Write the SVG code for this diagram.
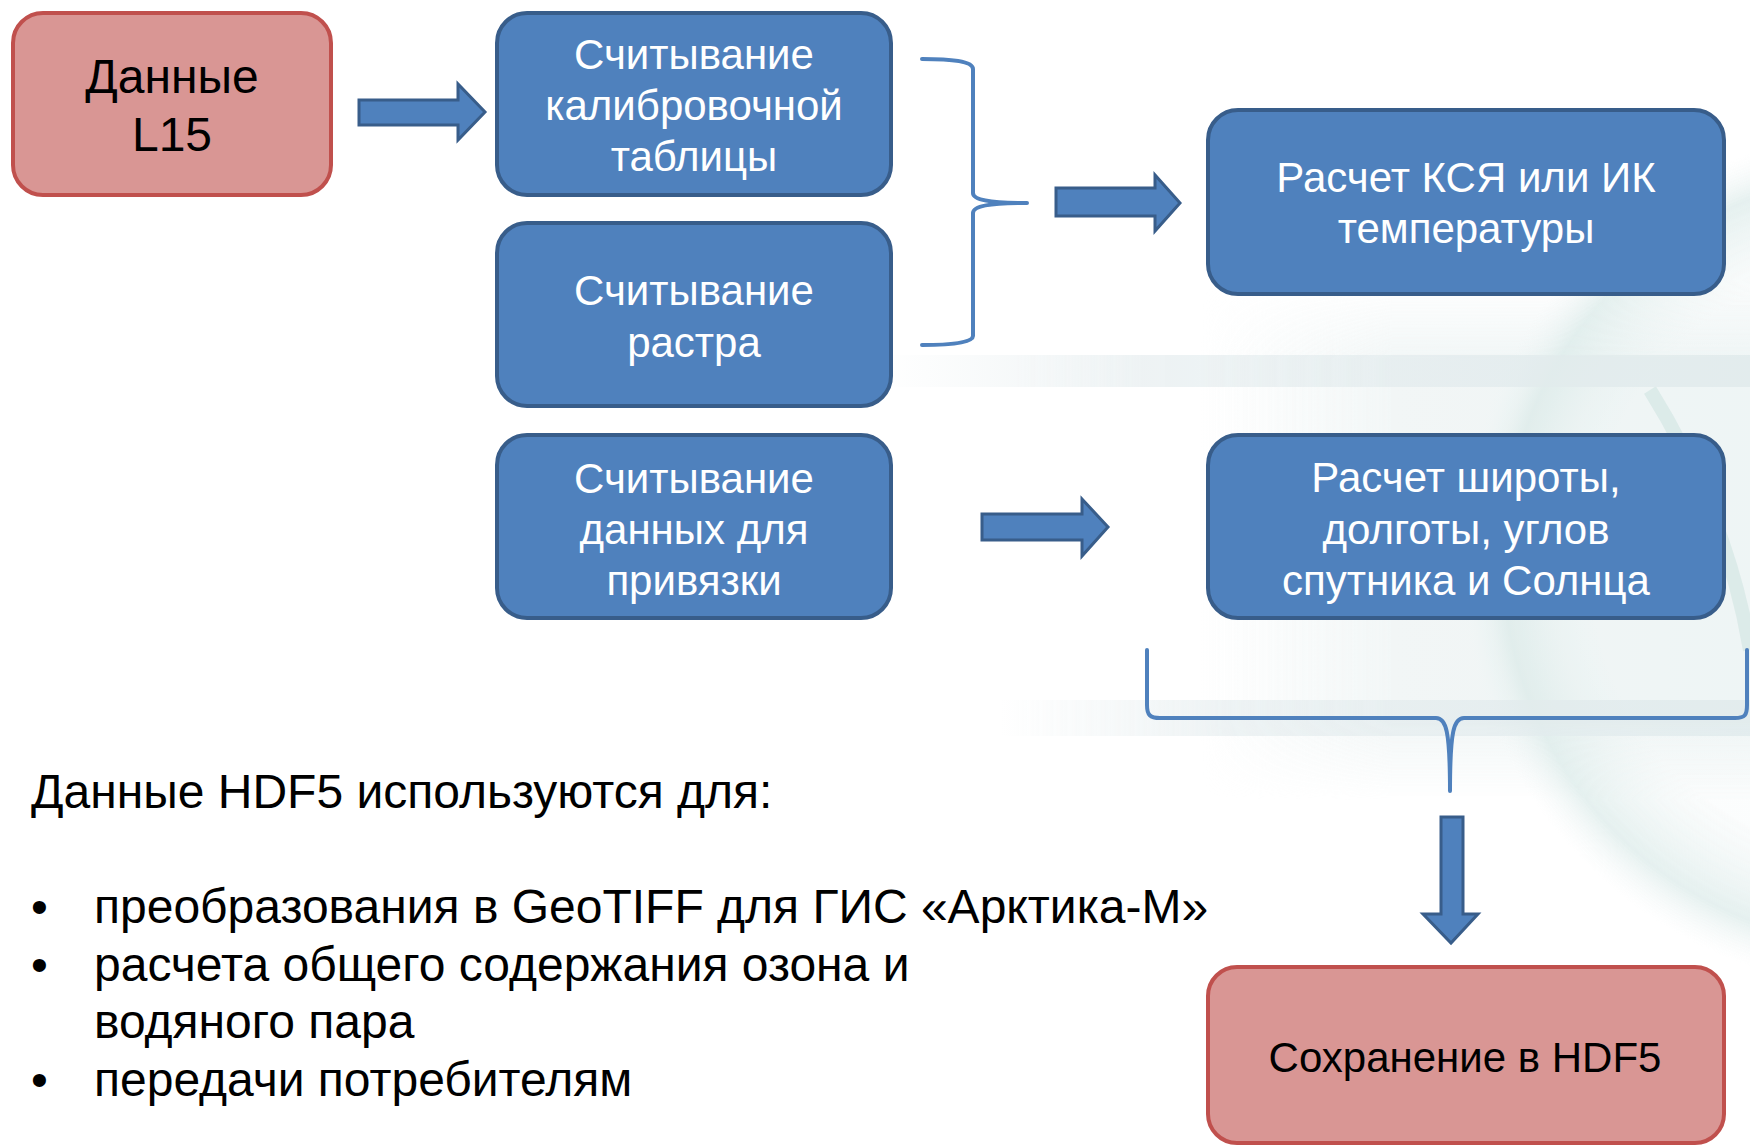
<svg xmlns="http://www.w3.org/2000/svg" width="1750" height="1146" viewBox="0 0 1750 1146">
  <style>
    .blue { fill: #4F81BD; stroke: #385D8A; stroke-width: 4; }
    .red { fill: #D99694; stroke: #C0504D; stroke-width: 4; }
    .arrow { fill: #4F81BD; stroke: #385D8A; stroke-width: 3; stroke-linejoin: miter; }
    .brace { fill: none; stroke: #4F81BD; stroke-width: 4; stroke-linecap: round; stroke-linejoin: round; }
    text { font-family: "Liberation Sans", Arial, sans-serif; }
    .wt { fill: #FFFFFF; font-size: 42px; text-anchor: middle; }
    .bt { fill: #000000; text-anchor: middle; }
    .body { fill: #000000; font-size: 48px; }
  </style>
  <defs>
    <linearGradient id="band" x1="0" y1="0" x2="1" y2="0">
      <stop offset="0" stop-color="#E4ECEE" stop-opacity="0"/>
      <stop offset="0.3" stop-color="#E4ECEE" stop-opacity="0.7"/>
      <stop offset="1" stop-color="#DCE8EA" stop-opacity="0.8"/>
    </linearGradient>
    <linearGradient id="pale" x1="0" y1="0" x2="1" y2="0">
      <stop offset="0" stop-color="#F1F6F6" stop-opacity="0"/>
      <stop offset="0.35" stop-color="#F1F6F6" stop-opacity="1"/>
      <stop offset="1" stop-color="#EDF4F4" stop-opacity="1"/>
    </linearGradient>
    <linearGradient id="paleV" x1="0" y1="0" x2="0" y2="1">
      <stop offset="0" stop-color="#FFFFFF" stop-opacity="0"/>
      <stop offset="0.15" stop-color="#FFFFFF" stop-opacity="1"/>
      <stop offset="0.85" stop-color="#FFFFFF" stop-opacity="1"/>
      <stop offset="1" stop-color="#FFFFFF" stop-opacity="0"/>
    </linearGradient>
    <mask id="fadeV">
      <rect x="1200" y="280" width="550" height="520" fill="url(#paleV)"/>
    </mask>
    <radialGradient id="globe" cx="0.5" cy="0.5" r="0.5">
      <stop offset="0.7" stop-color="#EEF4F4" stop-opacity="0.3"/>
      <stop offset="0.9" stop-color="#D6E8E6" stop-opacity="0.7"/>
      <stop offset="1" stop-color="#EEF4F4" stop-opacity="0"/>
    </radialGradient>
  </defs>
  <rect x="0" y="0" width="1750" height="1146" fill="#FFFFFF"/>
  <g id="background" opacity="0.9">
    <rect x="1200" y="280" width="550" height="520" fill="url(#pale)" mask="url(#fadeV)"/>
    <circle cx="1890" cy="560" r="430" fill="url(#globe)"/>
    <path d="M1650,390 C1700,470 1735,560 1750,650" fill="none" stroke="#D3E6E3" stroke-width="14" opacity="0.8"/>
    <rect x="880" y="355" width="870" height="32" fill="url(#band)"/>
    <rect x="1000" y="700" width="750" height="36" fill="url(#band)"/>
  </g>
  <g id="connectors">
    <path class="arrow" d="M359,100 H458 V84 L485,112 L458,140 V125 H359 Z"/>
    <path class="brace" d="M922,59 C950,59 973,61 973,69 V193 C973,200 990,203 1027,203 C990,203 973,206 973,213 V336 C973,343 950,345 922,345"/>
    <path class="arrow" d="M1056,188 H1155 V175 L1180,203 L1155,231 V216 H1056 Z"/>
    <path class="arrow" d="M982,514 H1082 V499 L1108,527 L1082,556 V540 H982 Z"/>
    <path class="brace" d="M1147,650 V705 C1147,715 1150,718 1160,718 H1436 C1446,718 1450,730 1450,791 C1450,730 1454,718 1464,718 H1735 C1745,718 1747,715 1747,705 V650"/>
    <path class="arrow" d="M1441,817 H1463 V914 H1478 L1451,943 L1423,914 H1441 Z"/>
  </g>
  <g id="node-l15">
    <rect class="red" x="13" y="13" width="318" height="182" rx="30"/>
    <text class="bt" font-size="48" x="172" y="93">Данные</text>
    <text class="bt" font-size="48" x="172" y="151">L15</text>
  </g>
  <g id="node-calib">
    <rect class="blue" x="497" y="13" width="394" height="182" rx="30"/>
    <text class="wt" x="694" y="69">Считывание</text>
    <text class="wt" x="694" y="120">калибровочной</text>
    <text class="wt" x="694" y="171">таблицы</text>
  </g>
  <g id="node-raster">
    <rect class="blue" x="497" y="223" width="394" height="183" rx="30"/>
    <text class="wt" x="694" y="305">Считывание</text>
    <text class="wt" x="694" y="357">растра</text>
  </g>
  <g id="node-geo">
    <rect class="blue" x="497" y="435" width="394" height="183" rx="30"/>
    <text class="wt" x="694" y="493">Считывание</text>
    <text class="wt" x="694" y="544">данных для</text>
    <text class="wt" x="694" y="595">привязки</text>
  </g>
  <g id="node-ksya">
    <rect class="blue" x="1208" y="110" width="516" height="184" rx="30"/>
    <text class="wt" x="1466" y="192">Расчет КСЯ или ИК</text>
    <text class="wt" x="1466" y="243">температуры</text>
  </g>
  <g id="node-latlon">
    <rect class="blue" x="1208" y="435" width="516" height="183" rx="30"/>
    <text class="wt" x="1466" y="492">Расчет широты,</text>
    <text class="wt" x="1466" y="544">долготы, углов</text>
    <text class="wt" x="1466" y="595">спутника и Солнца</text>
  </g>
  <g id="node-hdf5">
    <rect class="red" x="1208" y="967" width="516" height="176" rx="29"/>
    <text class="bt" font-size="42" x="1465" y="1072">Сохранение в HDF5</text>
  </g>
  <g id="notes">
    <text class="body" x="31" y="808">Данные HDF5 используются для:</text>
    <text class="body" x="31" y="923">•</text>
    <text class="body" x="94" y="923">преобразования в GeoTIFF для ГИС «Арктика-М»</text>
    <text class="body" x="31" y="981">•</text>
    <text class="body" x="94" y="981">расчета общего содержания озона и</text>
    <text class="body" x="94" y="1038">водяного пара</text>
    <text class="body" x="31" y="1096">•</text>
    <text class="body" x="94" y="1096">передачи потребителям</text>
  </g>
</svg>
